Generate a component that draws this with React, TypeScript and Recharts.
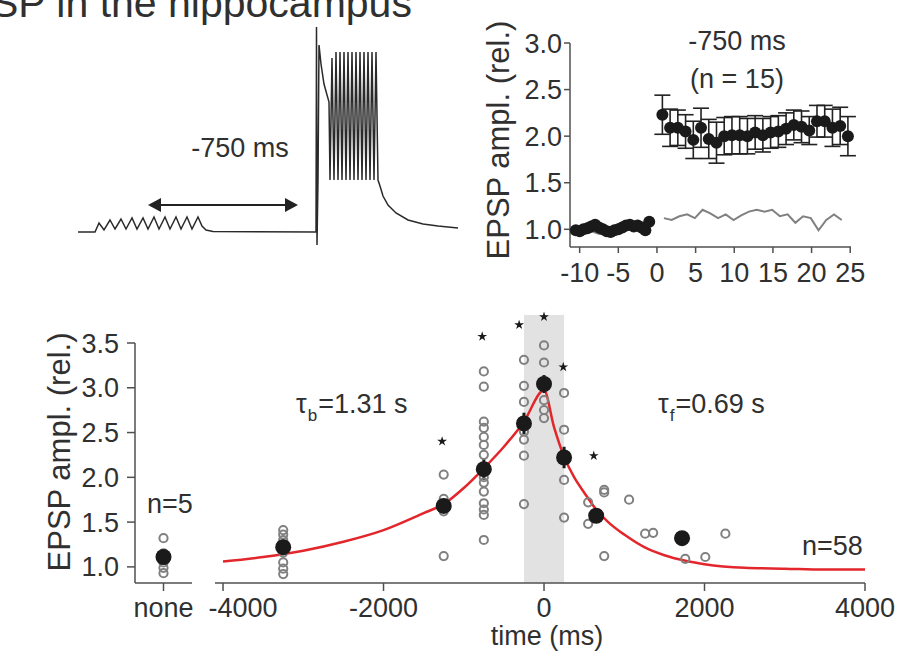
import React from "react";
import {
  ComposedChart,
  LineChart,
  Line,
  Scatter,
  XAxis,
  YAxis,
  ErrorBar,
  ReferenceArea,
  ReferenceLine,
  Symbols,
} from "recharts";

const FONT = "'Liberation Sans', Arial, Helvetica, sans-serif";
const INK = "#303030";
const AXIS = "#505050";
const GREY = "#808080";
const RED = "#e3262b";

// membrane trace (top left): time step, deflection from rest
const traceT = [
  0, 17, 21, 26, 32, 37, 43, 48, 54, 59, 65, 70, 76, 81, 87, 92, 98, 103, 109, 114, 120, 124, 128, 135,
  238, 238.5, 239, 240, 241, 243, 246, 251, 252,
  254, 256, 258, 260, 262, 264, 266, 268, 270, 272, 274, 276, 278, 280, 282, 284, 286, 288, 290, 292, 294, 296, 298, 300,
  302, 305, 310, 318, 330, 345, 360, 380,
];
const traceV = [
  0, 0, 9, 2, 12, 3, 13, 3, 14, 3, 14, 3, 15, 3, 15, 3, 15, 3, 15, 3, 15, 6, 2, 0.5,
  0, 205, -13, 52, 187, 168, 148, 130, 52,
  174, 52, 180, 52, 180, 52, 180, 52, 180, 52, 180, 52, 180, 52, 180, 52, 180, 52, 180, 52, 180, 52, 180, 52,
  46, 36, 27, 19, 12, 8, 6, 4,
];
const arrowT = [70, 220];
const arrowV = 27;

// time course of the -750 ms pairing (min, relative EPSP)
const baseT = [-10.5, -10, -9.5, -9, -8.5, -8, -7.5, -7, -6.5, -6, -5.5, -5, -4.5, -4, -3.5, -3, -2.5, -2, -1.5, -1];
const baseAmp = [0.99, 0.98, 1.0, 1.01, 1.03, 1.05, 1.02, 1.0, 0.98, 0.97, 0.99, 1.0, 1.02, 1.04, 1.05, 1.03, 1.04, 1.02, 0.99, 1.08];
const pairT = [0.7, 1.7, 2.7, 3.7, 4.7, 5.7, 6.7, 7.7, 8.7, 9.7, 10.7, 11.7, 12.7, 13.7, 14.7, 15.7, 16.7, 17.7, 18.7, 19.7, 20.7, 21.7, 22.7, 23.7, 24.7];
const pairAmp = [2.23, 2.09, 2.09, 2.05, 1.96, 2.09, 1.97, 1.93, 2.0, 2.01, 2.01, 2.0, 2.04, 2.01, 2.04, 2.05, 2.08, 2.12, 2.1, 2.06, 2.16, 2.16, 2.09, 2.11, 2.0];
const pairErr = [0.21, 0.2, 0.19, 0.18, 0.2, 0.21, 0.21, 0.22, 0.2, 0.2, 0.2, 0.19, 0.18, 0.18, 0.17, 0.17, 0.17, 0.16, 0.17, 0.15, 0.17, 0.17, 0.2, 0.2, 0.21];
const ctrlPreT = [-10.5, -9.5, -8.5, -7.5, -6.5, -5.5, -4.5, -3.5, -2.5];
const ctrlPreAmp = [0.97, 1.0, 0.98, 0.95, 0.98, 1.01, 1.04, 1.1, 1.03];
const ctrlPostT = [0.9, 1.9, 2.9, 3.9, 4.9, 5.9, 6.9, 7.9, 8.9, 9.9, 10.9, 11.9, 12.9, 13.9, 14.9, 15.9, 16.9, 17.9, 18.9, 19.9, 20.9, 21.9, 22.9, 23.9];
const ctrlPostAmp = [1.12, 1.1, 1.14, 1.16, 1.12, 1.21, 1.17, 1.12, 1.16, 1.1, 1.15, 1.19, 1.21, 1.19, 1.21, 1.14, 1.16, 1.07, 1.14, 1.12, 0.99, 1.1, 1.16, 1.1];
const courseTicksX = [-10, -5, 0, 5, 10, 15, 20, 25];
const courseTicksY = [1.0, 1.5, 2.0, 2.5, 3.0];

// timing window (ms, relative EPSP)
const noneAmp = [1.32, 1.15, 1.05, 0.99, 0.93];
const noneMean = 1.11;
const cellT = [
  -3250, -3250, -3250, -3250, -3250, -3250, -3250, -3250,
  -1250, -1250, -1250, -1250, -1250,
  -750, -750, -750, -750, -750, -750, -750, -750, -750, -750, -750, -750, -750, -750,
  -250, -250, -250, -250, -250, -250, -250,
  0, 0, 0, 0, 0, 0,
  250, 250, 250, 250, 250,
  550, 550, 750, 750, 750, 1060, 1260, 1360, 1760, 2010, 2260,
];
const cellAmp = [
  1.41, 1.36, 1.3, 1.25, 1.16, 1.05, 0.98, 0.92,
  2.03, 1.76, 1.68, 1.62, 1.12,
  3.18, 3.01, 2.62, 2.55, 2.45, 2.36, 2.25, 2.0, 1.94, 1.84, 1.71, 1.64, 1.58, 1.3,
  3.31, 3.02, 2.84, 2.51, 2.42, 2.24, 1.7,
  3.47, 3.28, 3.05, 2.86, 2.75, 2.66,
  2.94, 2.53, 2.22, 1.97, 1.55,
  1.72, 1.48, 1.86, 1.83, 1.12, 1.75, 1.37, 1.38, 1.09, 1.11, 1.37,
];
const meanT = [-3250, -1250, -750, -250, 0, 250, 650, 1720];
const meanAmp = [1.22, 1.68, 2.09, 2.6, 3.04, 2.22, 1.57, 1.32];
const meanErr = [0.04, 0.08, 0.12, 0.12, 0.1, 0.12, 0.06, 0];
const fitT = [-4000, -3500, -3000, -2500, -2000, -1500, -1250, -1000, -750, -500, -250, 0, 125, 250, 375, 500, 650, 800, 1000, 1250, 1500, 1750, 2000, 2500, 3000, 3500, 4000];
const fitAmp = [1.06, 1.11, 1.18, 1.28, 1.41, 1.6, 1.7, 1.88, 2.1, 2.34, 2.62, 2.97, 2.56, 2.23, 2.0, 1.83, 1.64, 1.5, 1.36, 1.22, 1.13, 1.07, 1.03, 0.99, 0.98, 0.97, 0.97];
const starT = [-1270, -770, -310, 0, 240, 620];
const starAmp = [2.4, 3.57, 3.7, 3.79, 3.23, 2.24];
const windowTicksX = [-4000, -2000, 0, 2000, 4000];
const windowTicksY = [1.0, 1.5, 2.0, 2.5, 3.0, 3.5];

const traceData = traceT.map((t, i) => ({ t, v: traceV[i] }));
const baseData = baseT.map((x, i) => ({ x, y: baseAmp[i] }));
const pairData = pairT.map((x, i) => ({ x, y: pairAmp[i], err: pairErr[i] }));
const ctrlPre = ctrlPreT.map((x, i) => ({ x, y: ctrlPreAmp[i] }));
const ctrlPost = ctrlPostT.map((x, i) => ({ x, y: ctrlPostAmp[i] }));
const noneCells = noneAmp.map((y) => ({ x: 0, y }));
const cells = cellT.map((x, i) => ({ x, y: cellAmp[i] }));
const means = meanT.map((x, i) => ({ x, y: meanAmp[i], err: meanErr[i] }));
const fit = fitT.map((x, i) => ({ x, y: fitAmp[i] }));
const stars = starT.map((x, i) => ({ x, y: starAmp[i] }));

const tickStyle = { fontSize: 27, fill: INK, fontFamily: FONT };
const axisLine = { stroke: AXIS, strokeWidth: 1.5 };

// first label sits to the right of its tick so it clears "none"
const windowTick = (p: any) => {
  const v = p.payload.value;
  return (
    <text x={p.x + (v === -4000 ? 20 : 0)} y={p.y} dy="0.71em" textAnchor="middle" fontSize={27} fill={INK} fontFamily={FONT}>
      {v}
    </text>
  );
};

const openCircle = (p: any) => (
  <circle cx={p.cx} cy={p.cy} r={4.1} fill="none" stroke={GREY} strokeWidth={2} />
);
const bigDot = (p: any) => <circle cx={p.cx} cy={p.cy} r={8} fill="#1a1a1a" />;
const smallDot = (p: any) => <circle cx={p.cx} cy={p.cy} r={6} fill="#1a1a1a" />;
const star = (p: any) => <Symbols cx={p.cx} cy={p.cy} type="star" size={30} fill="#1a1a1a" />;

const arrow = (p: any) => {
  const { x1, y1, x2, y2 } = p;
  return (
    <g>
      <line x1={x1 + 10} y1={y1} x2={x2 - 10} y2={y2} stroke="#222" strokeWidth={2} />
      <polygon points={`${x1},${y1} ${x1 + 13},${y1 - 7} ${x1 + 13},${y1 + 7}`} fill="#222" />
      <polygon points={`${x2},${y2} ${x2 - 13},${y2 - 7} ${x2 - 13},${y2 + 7}`} fill="#222" />
    </g>
  );
};

export default function App() {
  return (
    <div style={{ position: "absolute", left: 0, top: 0, width: 907, height: 662, background: "#fff", overflow: "hidden", fontFamily: FONT }}>
      {/* trace */}
      <div style={{ position: "absolute", left: 78, top: 22 }}>
        <LineChart width={380} height={230} data={traceData} margin={{ top: 0, right: 0, bottom: 0, left: 0 }}>
          <XAxis type="number" dataKey="t" domain={[0, 380]} hide />
          <YAxis type="number" domain={[-20, 210]} hide width={0} />
          <Line type="linear" dataKey="v" stroke="#2a2a2a" strokeWidth={1.5} dot={false} isAnimationActive={false} />
          <ReferenceLine
            segment={[{ x: arrowT[0], y: arrowV }, { x: arrowT[1], y: arrowV }]}
            shape={arrow}
          />
        </LineChart>
      </div>

      {/* time course */}
      <div style={{ position: "absolute", left: 460, top: 0 }}>
        <ComposedChart width={420} height={300} margin={{ top: 43, right: 29, bottom: 13, left: 30 }}>
          <XAxis
            type="number"
            dataKey="x"
            domain={[-11.25, 25.1]}
            ticks={courseTicksX}
            interval={0}
            height={40}
            tick={tickStyle}
            tickSize={6}
            tickMargin={10}
            axisLine={axisLine}
            tickLine={axisLine}
          />
          <YAxis
            type="number"
            dataKey="y"
            domain={[0.81, 3.0]}
            ticks={courseTicksY}
            interval={0}
            width={80}
            tick={tickStyle}
            tickSize={6}
            tickMargin={2}
            tickFormatter={(v: number) => v.toFixed(1)}
            axisLine={axisLine}
            tickLine={axisLine}
          />
          <Scatter data={baseData} shape={smallDot} isAnimationActive={false} />
          <Scatter data={pairData} shape={smallDot} isAnimationActive={false}>
            <ErrorBar dataKey="err" direction="y" width={8} stroke="#222" strokeWidth={1.6} />
          </Scatter>
          <Line data={ctrlPre} dataKey="y" type="linear" stroke={GREY} strokeWidth={2} dot={false} isAnimationActive={false} />
          <Line data={ctrlPost} dataKey="y" type="linear" stroke={GREY} strokeWidth={2} dot={false} isAnimationActive={false} />
        </ComposedChart>
      </div>

      {/* no pairing */}
      <div style={{ position: "absolute", left: 0, top: 300 }}>
        <ComposedChart width={200} height={330} margin={{ top: 43, right: 8, bottom: 7, left: 70 }}>
          <XAxis
            type="number"
            dataKey="x"
            domain={[-1, 1]}
            ticks={[0]}
            interval={0}
            height={40}
            tick={tickStyle}
            tickSize={8}
            tickMargin={7}
            tickFormatter={() => "none"}
            axisLine={axisLine}
            tickLine={axisLine}
          />
          <YAxis
            type="number"
            dataKey="y"
            domain={[0.82, 3.5]}
            ticks={windowTicksY}
            interval={0}
            width={65}
            tick={tickStyle}
            tickSize={8}
            tickMargin={8}
            tickFormatter={(v: number) => v.toFixed(1)}
            axisLine={axisLine}
            tickLine={axisLine}
          />
          <Scatter data={noneCells} shape={openCircle} isAnimationActive={false} />
          <Scatter data={[{ x: 0, y: noneMean }]} shape={bigDot} isAnimationActive={false} />
        </ComposedChart>
      </div>

      {/* timing window */}
      <div style={{ position: "absolute", left: 140, top: 300 }}>
        <ComposedChart width={760} height={330} margin={{ top: 15, right: 35, bottom: 7, left: 75 }}>
          <XAxis
            type="number"
            dataKey="x"
            domain={[-4100, 4000]}
            ticks={windowTicksX}
            interval={0}
            height={40}
            tick={windowTick}
            tickSize={8}
            tickMargin={7}
            axisLine={axisLine}
            tickLine={axisLine}
          />
          <YAxis type="number" dataKey="y" domain={[0.82, 3.81]} hide width={0} />
          <ReferenceArea x1={-250} x2={250} fill="#e2e2e2" fillOpacity={1} stroke="none" />
          <Scatter data={cells} shape={openCircle} isAnimationActive={false} />
          <Line data={fit} dataKey="y" type="monotone" stroke={RED} strokeWidth={2.5} dot={false} isAnimationActive={false} />
          <Scatter data={means} shape={bigDot} isAnimationActive={false}>
            <ErrorBar dataKey="err" direction="y" width={0} stroke="#1a1a1a" strokeWidth={3} />
          </Scatter>
          <Scatter data={stars} shape={star} isAnimationActive={false} />
        </ComposedChart>
      </div>

      {/* labels */}
      <svg width={907} height={662} style={{ position: "absolute", left: 0, top: 0, pointerEvents: "none" }} fontFamily={FONT} fill={INK}>
        <text x={-9} y={17} fontSize={41}>SP in the hippocampus</text>
        <text x={240} y={157} fontSize={27} textAnchor="middle">-750 ms</text>
        <text x={737} y={50} fontSize={27} textAnchor="middle">-750 ms</text>
        <text x={737} y={88} fontSize={27} textAnchor="middle">(n = 15)</text>
        <text x={509} y={140} fontSize={31} textAnchor="middle" transform="rotate(-90 509 140)">EPSP ampl. (rel.)</text>
        <text x={70} y={452} fontSize={31} textAnchor="middle" transform="rotate(-90 70 452)">EPSP ampl. (rel.)</text>
        <text x={296} y={413} fontSize={27}>
          τ<tspan dx={1} dy={8} fontSize={17}>b</tspan><tspan dx={1} dy={-8}>=1.31 s</tspan>
        </text>
        <text x={658} y={413} fontSize={27}>
          τ<tspan dx={1} dy={8} fontSize={17}>f</tspan><tspan dx={1} dy={-8}>=0.69 s</tspan>
        </text>
        <text x={147} y={513} fontSize={27}>n=5</text>
        <text x={802} y={555} fontSize={27}>n=58</text>
        <text x={547} y={645} fontSize={27} textAnchor="middle">time (ms)</text>
      </svg>
    </div>
  );
}
